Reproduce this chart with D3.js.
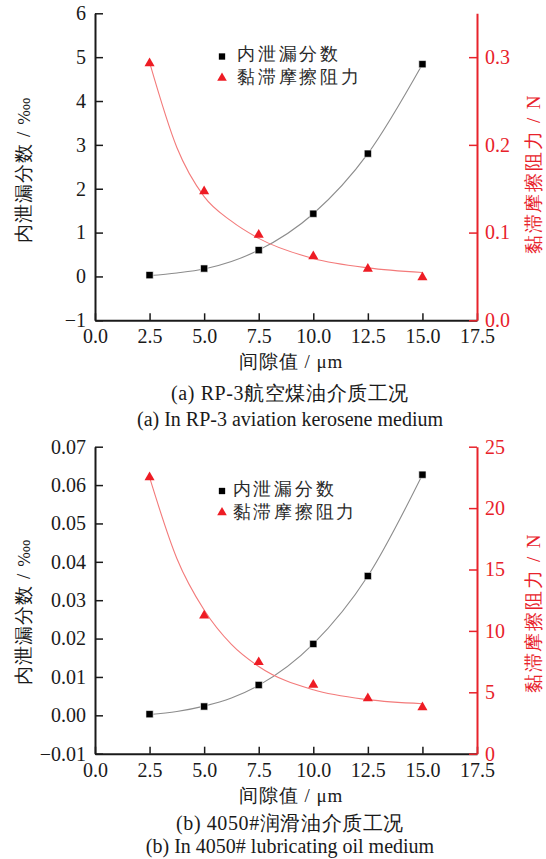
<!DOCTYPE html>
<html>
<head>
<meta charset="utf-8">
<script src="https://cdn.jsdelivr.net/npm/d3@7"></script>
<style>
    body { margin: 0; background: #fff; }
</style>
</head>
<body>
<div id="chart"></div>
<script>
// gap (µm) for measured points
const gapUm = [2.5, 5, 7.5, 10, 12.5, 15];
const fitGapUm = [2.5, 3.75, 5, 6.25, 7.5, 10, 12.5, 15];
const xTicks = [0, 2.5, 5, 7.5, 10, 12.5, 15, 17.5];

// (a) RP-3 aviation kerosene
const leakA = [0.03, 0.18, 0.6, 1.43, 2.8, 4.84];
const frictionA = [0.293, 0.147, 0.0975, 0.073, 0.0587, 0.049];
const leakFitA = [0.02, 0.08, 0.17, 0.34, 0.6, 1.43, 2.8, 4.84];
const frictionFitA = [0.294, 0.197, 0.141, 0.113, 0.0934, 0.0705, 0.0598, 0.0545];
const leftTicksA = [-1, 0, 1, 2, 3, 4, 5, 6];
const rightTicksA = [0, 0.1, 0.2, 0.3];

// (b) 4050# lubricating oil
const leakB = [0.0003, 0.0023, 0.0079, 0.0186, 0.0363, 0.0627];
const frictionB = [22.5, 11.25, 7.45, 5.6, 4.5, 3.77];
const leakFitB = [0.0002, 0.001, 0.0024, 0.0045, 0.0078, 0.0186, 0.0363, 0.0627];
const frictionFitB = [22.5, 15.9, 11.7, 8.9, 7.1, 5.2, 4.4, 4.07];
const leftTicksB = [-0.01, 0, 0.01, 0.02, 0.03, 0.04, 0.05, 0.06, 0.07];
const rightTicksB = [0, 5, 10, 15, 20, 25];

const legendNames = ["内泄漏分数", "黏滞摩擦阻力"];
const xTitle = "间隙值 / μm";
const leftTitle = ["内泄漏分数 / ", "‱"];
const rightTitle = "黏滞摩擦阻力 / N";

const FONT = "Liberation Serif";
const RED = "#e8222b";
const INK = "#1a1a1a";
const PLOT = {left: 95, right: 477, height: 307};

const svg = d3.select("#chart").append("svg")
    .attr("width", 546)
    .attr("height", 859)
    .style("font-family", FONT);

function drawPanel(p) {
    const top = p.top, bottom = p.top + PLOT.height;
    const x = d3.scaleLinear().domain([0, 17.5]).range([PLOT.left, PLOT.right]);
    const yL = d3.scaleLinear().domain(p.leftDomain).range([bottom, top]);
    const yR = d3.scaleLinear().domain(p.rightDomain).range([bottom, top]);

    const g = svg.append("g").attr("id", p.id);

    // axes (ticks point inward)
    const ax = g.append("g").attr("transform", `translate(0,${bottom})`)
        .call(d3.axisBottom(x).tickValues(xTicks).tickFormat(d3.format(".1f"))
            .tickSizeInner(-7).tickSizeOuter(0).tickPadding(p.xPad));
    const al = g.append("g").attr("transform", `translate(${PLOT.left},0)`)
        .call(d3.axisLeft(yL).tickValues(p.leftTicks).tickFormat(p.leftFormat)
            .tickSizeInner(-8).tickSizeOuter(0).tickPadding(9));
    const ar = g.append("g").attr("transform", `translate(${PLOT.right},0)`)
        .call(d3.axisRight(yR).tickValues(p.rightTicks).tickFormat(p.rightFormat)
            .tickSizeInner(-8).tickSizeOuter(0).tickPadding(8));

    [ax, al, ar].forEach(a => a.attr("font-family", FONT).attr("font-size", 20));
    [ax, al].forEach(a => {
        a.select(".domain").attr("stroke", INK).attr("stroke-width", 2);
        a.selectAll(".tick line").attr("stroke", INK).attr("stroke-width", 1.5);
        a.selectAll(".tick text").attr("fill", INK).style("font-family", FONT);
    });
    ar.select(".domain").attr("stroke", RED).attr("stroke-width", 2);
    ar.selectAll(".tick line").attr("stroke", RED).attr("stroke-width", 1.5);
    ar.selectAll(".tick text").attr("fill", RED).style("font-family", FONT);
    ax.selectAll(".tick text").attr("dy", "0.71em");

    // fitted curves
    const fitLine = (scale) => d3.line()
        .x((d, i) => x(fitGapUm[i]))
        .y(d => scale(d))
        .curve(d3.curveMonotoneX);
    g.append("path").datum(p.leakFit)
        .attr("fill", "none").attr("stroke", "#8c8c8c").attr("stroke-width", 1.1)
        .attr("d", fitLine(yL));
    g.append("path").datum(p.frictionFit)
        .attr("fill", "none").attr("stroke", "#f37a7a").attr("stroke-width", 1.1)
        .attr("d", fitLine(yR));

    // measured points
    const square = d3.symbol().type(d3.symbolSquare).size(52);
    const tri = d3.symbol().type(d3.symbolTriangle).size(44);
    g.selectAll(".leak").data(p.leak).enter().append("path")
        .attr("class", "leak")
        .attr("transform", (d, i) => `translate(${x(gapUm[i])},${yL(d)})`)
        .attr("d", square).attr("fill", "#000").attr("stroke", "#fff").attr("stroke-width", 0.6);
    g.selectAll(".friction").data(p.friction).enter().append("path")
        .attr("class", "friction")
        .attr("transform", (d, i) => `translate(${x(gapUm[i])},${yR(d)})`)
        .attr("d", tri).attr("fill", "#ee1c24");

    // legend
    const lg = g.append("g");
    lg.append("path").attr("d", d3.symbol().type(d3.symbolSquare).size(40)())
        .attr("transform", `translate(${p.legend.mx},${p.legend.y1 + 3})`).attr("fill", "#000");
    lg.append("path").attr("d", d3.symbol().type(d3.symbolTriangle).size(40)())
        .attr("transform", `translate(${p.legend.mx},${p.legend.y2 + 1.5})`).attr("fill", "#ee1c24");
    [p.legend.y1, p.legend.y2].forEach((yy, i) => {
        lg.append("text").attr("x", p.legend.tx).attr("y", yy + 6.5)
            .style("font-size", "17.5px").style("letter-spacing", "2.8px")
            .attr("fill", "#2a2a2a").text(legendNames[i]);
    });

    // axis titles
    g.append("text").attr("x", 291).attr("y", p.xTitleY + 6.5)
        .attr("text-anchor", "middle")
        .style("font-size", "19px").style("letter-spacing", "1px").attr("fill", INK).text(xTitle);
    const lt = g.append("text")
        .attr("transform", `translate(29.5,${p.leftTitleY}) rotate(-90)`)
        .attr("text-anchor", "middle")
        .style("font-size", "19px").style("letter-spacing", "1px").attr("fill", INK);
    lt.append("tspan").text(leftTitle[0]);
    lt.append("tspan").style("font-family", "DejaVu Serif").style("font-size", "16px")
        .style("letter-spacing", "0px").text(leftTitle[1]);
    g.append("text")
        .attr("transform", `translate(539.5,${p.rightTitleY}) rotate(-90)`)
        .attr("text-anchor", "middle")
        .style("font-size", "19px").style("letter-spacing", "1.8px").attr("fill", RED).text(rightTitle);

    // captions
    p.captions.forEach((c, i) => {
        g.append("text").attr("x", 290).attr("y", p.captionY[i] + 6.5)
            .attr("text-anchor", "middle")
            .style("font-size", "20px").style("letter-spacing", i === 0 ? "0.6px" : "0px")
            .attr("fill", INK).text(c);
    });
}

drawPanel({
    id: "Panel A",
    top: 13.3,
    leftDomain: [-1, 6], rightDomain: [0, 0.35],
    leftTicks: leftTicksA, rightTicks: rightTicksA,
    leftFormat: d3.format("d"), rightFormat: d3.format(".1f"),
    leak: leakA, friction: frictionA, leakFit: leakFitA, frictionFit: frictionFitA,
    legend: {mx: 222, tx: 237, y1: 53.5, y2: 76.5},
    xPad: 9,
    xTitleY: 361.7, leftTitleY: 170, rightTitleY: 174,
    captions: ["(a) RP-3航空煤油介质工况", "(a) In RP-3 aviation kerosene medium"],
    captionY: [393, 419]
});

drawPanel({
    id: "Panel B",
    top: 446.7,
    leftDomain: [-0.01, 0.07], rightDomain: [0, 25],
    leftTicks: leftTicksB, rightTicks: rightTicksB,
    leftFormat: d3.format(".2f"), rightFormat: d3.format("d"),
    leak: leakB, friction: frictionB, leakFit: leakFitB, frictionFit: frictionFitB,
    legend: {mx: 222, tx: 232.5, y1: 488, y2: 511},
    xPad: 9,
    xTitleY: 795.5, leftTitleY: 612, rightTitleY: 613,
    captions: ["(b) 4050#润滑油介质工况", "(b) In 4050# lubricating oil medium"],
    captionY: [823, 846.6]
});
</script>
</body>
</html>
